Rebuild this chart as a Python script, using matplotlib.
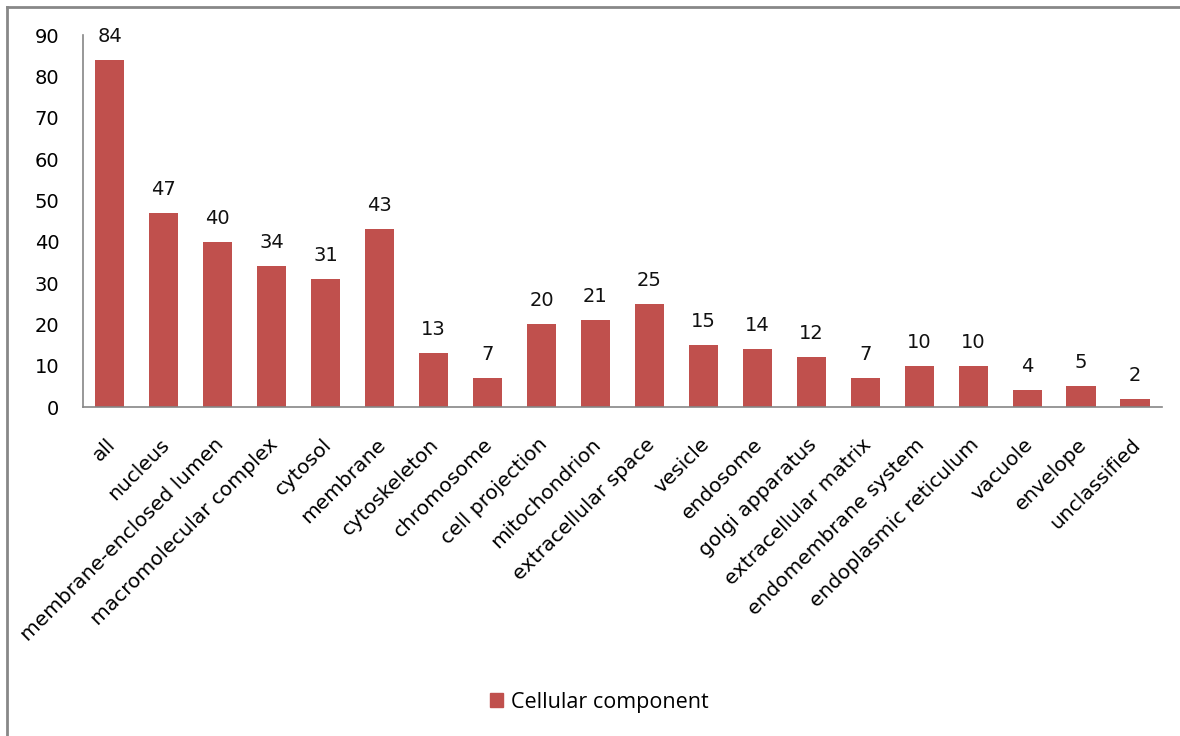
import matplotlib.pyplot as plt
from matplotlib.patches import Rectangle
from matplotlib.lines import Line2D
from matplotlib.transforms import ScaledTranslation

categories = ["all", "nucleus", "membrane-enclosed lumen", "macromolecular complex",
              "cytosol", "membrane", "cytoskeleton", "chromosome", "cell projection",
              "mitochondrion", "extracellular space", "vesicle", "endosome",
              "golgi apparatus", "extracellular matrix", "endomembrane system",
              "endoplasmic reticulum", "vacuole", "envelope", "unclassified"]
counts = [84, 47, 40, 34, 31, 43, 13, 7, 20, 21, 25, 15, 14, 12, 7, 10, 10, 4, 5, 2]
yticks = [0, 10, 20, 30, 40, 50, 60, 70, 80, 90]

bar_color = "#C0504D"
axis_color = "#868686"

plt.rcParams['font.family'] = ['DejaVu Sans']

fig = plt.figure(figsize=(11.8, 7.36), dpi=100)
ax = fig.add_axes([0.0703, 0.447, 0.9144, 0.5054])

x = range(len(categories))
ax.bar(x, counts, width=0.54, color=bar_color)
for xi, v in zip(x, counts):
    ax.text(xi, v + 3.4, str(v), ha='center', va='bottom', fontsize=14, color='#111111')

ax.set_xlim(-0.5, len(categories) - 0.5)
ax.set_ylim(0, 90)
ax.set_yticks(yticks)
ax.set_yticklabels([str(t) for t in yticks], fontsize=14)
ax.set_xticks(list(x))
ax.set_xticklabels(categories, rotation=45, ha='right', rotation_mode='anchor', fontsize=14.5)
ax.tick_params(axis='y', length=0, pad=17)
ax.tick_params(axis='x', length=0, pad=20)

# nudge the slanted labels a little to the left
shift = ScaledTranslation(-4 / 100, 0, fig.dpi_scale_trans)
for lbl in ax.get_xticklabels():
    lbl.set_transform(lbl.get_transform() + shift)

for side in ['top', 'right']:
    ax.spines[side].set_visible(False)
for side in ['left', 'bottom']:
    ax.spines[side].set_color(axis_color)
    ax.spines[side].set_linewidth(1.2)

# legend below the plot
handle = Rectangle((0, 0), 1, 1, color=bar_color)
fig.legend([handle], ["Cellular component"], loc='center', bbox_to_anchor=(0.508, 0.046),
           frameon=False, handlelength=0.6, handleheight=0.6, handletextpad=0.4,
           prop={'family': 'Open Sans', 'size': 15.5})

# outer chart frame
fig.add_artist(Line2D([0.006, 0.006], [0, 0.991], transform=fig.transFigure,
                      color='#888888', linewidth=2))
fig.add_artist(Line2D([0.006, 1.0], [0.991, 0.991], transform=fig.transFigure,
                      color='#888888', linewidth=2))

fig.savefig("out.png", dpi=100)
